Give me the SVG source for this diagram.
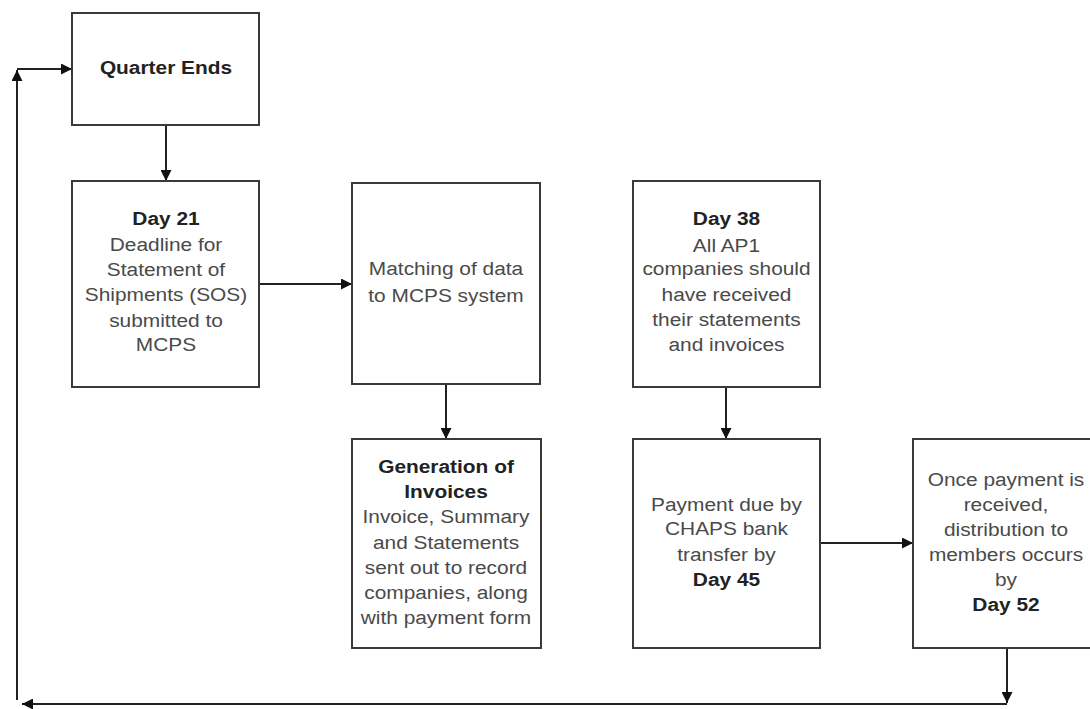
<svg xmlns="http://www.w3.org/2000/svg" width="1090" height="709" viewBox="0 0 1090 709">
<style>
.box{fill:#fff;stroke:#3a3a3a;stroke-width:2}
.ln{fill:none;stroke:#222;stroke-width:2}
text{font-family:"Liberation Sans",Arial,sans-serif;font-size:18px;text-anchor:middle;fill:#4a4a4a}
.b{font-weight:bold;fill:#222}
</style>
<defs>
<marker id="ah" viewBox="0 0 10 10" refX="10" refY="5" markerWidth="11" markerHeight="11" markerUnits="userSpaceOnUse" orient="auto">
<path d="M0,0 L10,5 L0,10 z" fill="#111"/>
</marker>
</defs>
<rect width="1090" height="709" fill="#fff"/>
<g id="connectors">
<line class="ln" x1="166" y1="125" x2="166" y2="181" marker-end="url(#ah)"/>
<line class="ln" x1="259" y1="284" x2="352" y2="284" marker-end="url(#ah)"/>
<line class="ln" x1="446" y1="384" x2="446" y2="439" marker-end="url(#ah)"/>
<line class="ln" x1="726" y1="387" x2="726" y2="439" marker-end="url(#ah)"/>
<line class="ln" x1="820" y1="543" x2="913" y2="543" marker-end="url(#ah)"/>
<line class="ln" x1="1007" y1="648" x2="1007" y2="703" marker-end="url(#ah)"/>
<line class="ln" x1="1007" y1="704" x2="22" y2="704" marker-end="url(#ah)"/>
<line class="ln" x1="17" y1="700" x2="17" y2="70" marker-end="url(#ah)"/>
<line class="ln" x1="17" y1="69" x2="72" y2="69" marker-end="url(#ah)"/>
</g>
<g id="quarter-ends">
<rect class="box" x="72" y="13" width="187" height="112"/>
<g transform="translate(166,0) scale(1.16,1)"><text class="b" x="0" y="74">Quarter Ends</text></g>
</g>
<g id="day21">
<rect class="box" x="72" y="181" width="187" height="206"/>
<g transform="translate(166,0) scale(1.16,1)">
<text class="b" x="0" y="225">Day 21</text>
<text x="0" y="251">Deadline for</text>
<text x="0" y="276">Statement of</text>
<text x="0" y="301">Shipments (SOS)</text>
<text x="0" y="327">submitted to</text>
<text x="0" y="351">MCPS</text>
</g>
</g>
<g id="matching">
<rect class="box" x="352" y="183" width="188" height="201"/>
<g transform="translate(446,0) scale(1.16,1)">
<text x="0" y="275">Matching of data</text>
<text x="0" y="302">to MCPS system</text>
</g>
</g>
<g id="generation">
<rect class="box" x="352" y="439" width="189" height="209"/>
<g transform="translate(446,0) scale(1.16,1)">
<text class="b" x="0" y="473">Generation of</text>
<text class="b" x="0" y="498">Invoices</text>
<text x="0" y="523">Invoice, Summary</text>
<text x="0" y="549">and Statements</text>
<text x="0" y="574">sent out to record</text>
<text x="0" y="599">companies, along</text>
<text x="0" y="624">with payment form</text>
</g>
</g>
<g id="day38">
<rect class="box" x="633" y="181" width="187" height="206"/>
<g transform="translate(726.5,0) scale(1.16,1)">
<text class="b" x="0" y="225">Day 38</text>
<text x="0" y="252">All AP1</text>
<text x="0" y="275">companies should</text>
<text x="0" y="301">have received</text>
<text x="0" y="326">their statements</text>
<text x="0" y="351">and invoices</text>
</g>
</g>
<g id="payment">
<rect class="box" x="633" y="439" width="187" height="209"/>
<g transform="translate(726.5,0) scale(1.16,1)">
<text x="0" y="511">Payment due by</text>
<text x="0" y="535">CHAPS bank</text>
<text x="0" y="561">transfer by</text>
<text class="b" x="0" y="586">Day 45</text>
</g>
</g>
<g id="distribution">
<rect class="box" x="913" y="439" width="187" height="209"/>
<g transform="translate(1006,0) scale(1.16,1)">
<text x="0" y="486">Once payment is</text>
<text x="0" y="511">received,</text>
<text x="0" y="536">distribution to</text>
<text x="0" y="561">members occurs</text>
<text x="0" y="586">by</text>
<text class="b" x="0" y="611">Day 52</text>
</g>
</g>
</svg>
